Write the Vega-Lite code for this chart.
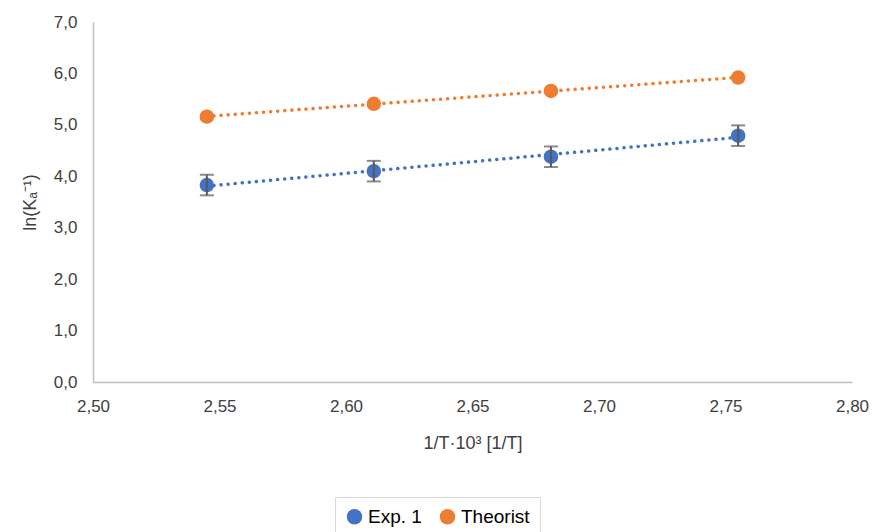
{
  "$schema": "https://vega.github.io/schema/vega-lite/v6.json",
  "autosize": "none",
  "width": 759,
  "height": 360,
  "padding": {"left": 93, "top": 22, "right": 23, "bottom": 150},
  "background": "white",
  "config": {
    "font": "Liberation Sans",
    "view": {"stroke": null},
    "axis": {"labelFont": "Liberation Sans", "titleFont": "Liberation Sans", "labelFontSize": 17, "titleFontSize": 18, "labelColor": "#404040", "titleColor": "#404040", "titleFontWeight": "normal", "grid": false, "ticks": false, "domainColor": "#bfbfbf", "domainWidth": 1.5, "labelFlush": false}
  },
  "data": {
    "values": [
      {"x": 2.545, "y": 3.83, "err": 0.2, "series": "Exp. 1"},
      {"x": 2.611, "y": 4.10, "err": 0.2, "series": "Exp. 1"},
      {"x": 2.681, "y": 4.38, "err": 0.2, "series": "Exp. 1"},
      {"x": 2.755, "y": 4.79, "err": 0.2, "series": "Exp. 1"},
      {"x": 2.545, "y": 5.16, "series": "Theorist"},
      {"x": 2.611, "y": 5.41, "series": "Theorist"},
      {"x": 2.681, "y": 5.66, "series": "Theorist"},
      {"x": 2.755, "y": 5.92, "series": "Theorist"}
    ]
  },
  "layer": [
    {
      "transform": [{"regression": "y", "on": "x", "groupby": ["series"]}],
      "mark": {"type": "line", "strokeDash": [0.1, 7], "strokeCap": "round", "strokeWidth": 3.5},
      "encoding": {
        "x": {"field": "x", "type": "quantitative", "title": "1/T·10³ [1/T]"},
        "y": {"field": "y", "type": "quantitative", "title": "ln(Kₐ⁻¹)"},
        "color": {"field": "series", "type": "nominal"}
      }
    },
    {
      "mark": {"type": "point", "filled": true, "opacity": 1, "size": 210},
      "encoding": {
        "x": {"field": "x", "type": "quantitative", "scale": {"domain": [2.5, 2.8]}, "axis": {"values": [2.5, 2.55, 2.6, 2.65, 2.7, 2.75, 2.8], "labelExpr": "replace(format(datum.value, '.2f'), '.', ',')", "labelPadding": 16, "titlePadding": 20}, "title": "1/T·10³ [1/T]"},
        "y": {"field": "y", "type": "quantitative", "scale": {"domain": [0, 7]}, "axis": {"values": [0, 1, 2, 3, 4, 5, 6, 7], "labelExpr": "replace(format(datum.value, '.1f'), '.', ',')", "labelPadding": 16, "titlePadding": 14}, "title": "ln(Kₐ⁻¹)"},
        "color": {"field": "series", "type": "nominal", "scale": {"domain": ["Exp. 1", "Theorist"], "range": ["#4472C4", "#ED7D31"]}, "legend": {"title": null, "orient": "none", "direction": "horizontal", "legendX": 242, "legendY": 475, "symbolType": "circle", "symbolSize": 240, "symbolStrokeWidth": 0, "symbolDash": [], "labelFont": "Liberation Sans", "labelFontSize": 19, "labelColor": "#000000", "strokeColor": "#d9d9d9", "padding": 10, "columnPadding": 16, "symbolOpacity": 1}}
      }
    },
    {
      "transform": [{"filter": "datum.err != null"}],
      "mark": {"type": "errorbar", "ticks": {"size": 14, "color": "#595959", "thickness": 2}, "rule": {"color": "#595959", "strokeWidth": 2}},
      "encoding": {
        "x": {"field": "x", "type": "quantitative", "title": "1/T·10³ [1/T]"},
        "y": {"field": "y", "type": "quantitative", "title": "ln(Kₐ⁻¹)"},
        "yError": {"field": "err"}
      }
    }
  ]
}
